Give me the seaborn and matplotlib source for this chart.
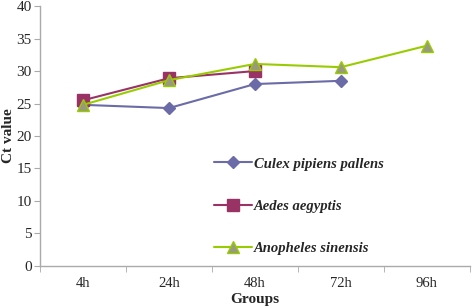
import numpy as np
import pandas as pd
import matplotlib.pyplot as plt
import seaborn as sns
from matplotlib.ticker import FixedLocator

groups = ['4h', '24h', '48h', '72h', '96h']
culex = [24.8, 24.3, 28.0, 28.5, np.nan]
aedes = [25.5, 28.9, 30.0, np.nan, np.nan]
anopheles = [24.8, 28.6, 31.1, 30.6, 33.9]

species = ['Culex pipiens pallens', 'Aedes aegyptis', 'Anopheles sinensis']
values = [culex, aedes, anopheles]
line_colors = ['#6b6ba8', '#993366', '#99cc00']
marker_face = ['#6b6ba8', '#993366', '#999980']
markers = ['D', 's', '^']
msizes = [6, 8, 9]

sns.set_style('white')
plt.rcParams['font.family'] = ['Liberation Serif', 'DejaVu Serif']

fig = plt.figure(figsize=(4.72, 3.07), dpi=100)
ax = fig.add_axes([0.085, 0.134, 0.91, 0.846])

pos = np.arange(len(groups))
for name, vals, lc, mf, mk, ms in zip(species, values, line_colors, marker_face, markers, msizes):
    df = pd.DataFrame({'x': pos, 'y': vals}).dropna()
    sns.lineplot(data=df, x='x', y='y', ax=ax, color=lc, linewidth=1.5,
                 marker=mk, markersize=ms, markerfacecolor=mf,
                 markeredgecolor=lc if mk == '^' else mf, markeredgewidth=1,
                 label=name)

ax.set_xlim(-0.5, len(groups) - 0.5)
ax.set_ylim(0, 40)
ax.set_yticks(range(0, 41, 5))
ax.set_xticks(pos)
ax.set_xticklabels(groups)
ax.xaxis.set_minor_locator(FixedLocator(np.arange(-0.5, len(groups), 1)))
ax.tick_params(axis='x', which='major', length=0, pad=8, labelsize=10.5)
ax.tick_params(axis='x', which='minor', length=4, color='#aaaaaa', bottom=True)
ax.tick_params(axis='y', length=4, color='#aaaaaa', left=True, labelsize=11, pad=2)
sns.despine(ax=ax)
for s in ['left', 'bottom']:
    ax.spines[s].set_color('#aaaaaa')
    ax.spines[s].set_linewidth(1)

ax.set_xlabel('Groups', fontsize=11, fontweight='bold', labelpad=2)
ax.set_ylabel('Ct value', fontsize=11, fontweight='bold')
ax.yaxis.set_label_coords(-0.058, 0.5)

leg = ax.legend(loc='lower left', bbox_to_anchor=(0.375, -0.01), frameon=False,
                handlelength=2.6, handletextpad=0.1, labelspacing=2.0,
                prop={'family': 'Liberation Serif', 'style': 'italic',
                      'weight': 'bold', 'size': 10.5})

fig.savefig('out.png', dpi=100)
